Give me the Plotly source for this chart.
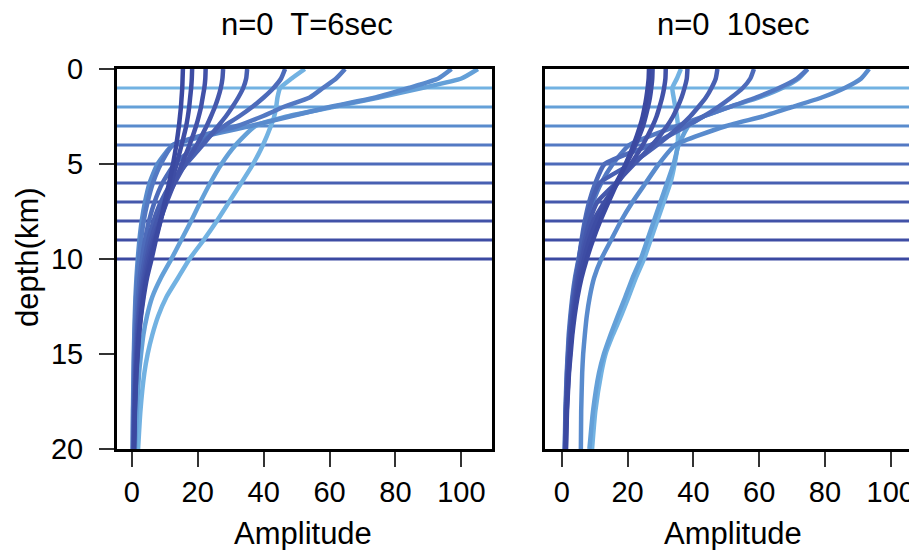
import plotly.graph_objects as go

# depth samples (km) shared by every amplitude profile
DEPTH_KM = [0, 0.5, 1, 1.5, 2, 2.5, 3, 4, 5, 6, 7, 8, 9, 10, 11, 12, 13, 14, 15, 16, 18, 20]

# layer thickness of each model (km), one horizontal line each
LAYER_KM = [1, 2, 3, 4, 5, 6, 7, 8, 9, 10]

# light blue -> dark blue, one per layer thickness
LAYER_COLORS = [
    "#72b2e2", "#64a0d8", "#598bcd", "#5379c3", "#4d6bba",
    "#4860b2", "#4558ac", "#4252a8", "#3e4da4", "#3b49a1",
]

# n=0, T=6sec amplitude profiles (one list per layer thickness)
t6_h1 = [52.5, 48.5, 45, 44.2, 43.8, 43.2, 42.2, 39.8, 36.8, 33.2, 29.5, 25.8, 21.8, 17.5, 14, 10.5, 8, 6.2, 4.8, 3.8, 2.6, 1.9]
t6_h2 = [105, 100, 88, 75, 61, 47, 37.5, 31.5, 27.2, 23.8, 20.8, 18, 15, 12, 8.8, 6.2, 4.6, 3.5, 2.8, 2.2, 1.5, 1.0]
t6_h3 = [97, 93, 84, 74, 60, 48, 36, 12.5, 7.8, 5.4, 4, 3, 2.3, 1.8, 1.4, 1.1, 0.9, 0.75, 0.6, 0.5, 0.35, 0.25]
t6_h4 = [64.7, 62, 58, 54, 46, 39.5, 32, 12.5, 8.8, 6.4, 4.8, 3.6, 2.8, 2.2, 1.7, 1.3, 1.05, 0.85, 0.7, 0.6, 0.4, 0.3]
t6_h5 = [46.5, 45.3, 43, 40, 36.5, 32.5, 28, 20, 13, 9.3, 6.9, 5.2, 4, 3.1, 2.4, 1.9, 1.5, 1.2, 1.0, 0.8, 0.55, 0.4]
t6_h6 = [35, 34.7, 33.8, 32.3, 30.5, 28.5, 26.2, 21.5, 16.5, 12, 8.8, 6.6, 5, 3.9, 3.0, 2.4, 1.9, 1.5, 1.2, 1.0, 0.7, 0.5]
t6_h7 = [27.7, 27.5, 27, 26.2, 25.2, 24, 22.7, 19.7, 16.2, 13, 10, 7.6, 5.8, 4.5, 3.5, 2.7, 2.1, 1.7, 1.4, 1.1, 0.75, 0.55]
t6_h8 = [22.4, 22.3, 22, 21.5, 21, 20.3, 19.5, 17.5, 15.2, 12.9, 10.6, 8.5, 6.5, 5.0, 3.9, 3.0, 2.4, 1.9, 1.5, 1.2, 0.8, 0.6]
t6_h9 = [18.3, 18.2, 18, 17.7, 17.4, 17, 16.5, 15.1, 13.6, 12, 10.3, 8.7, 7, 5.5, 4.3, 3.4, 2.7, 2.1, 1.7, 1.35, 0.9, 0.65]
t6_h10 = [15.5, 15.4, 15.3, 15.1, 14.9, 14.6, 14.3, 13.5, 12.5, 11.3, 10, 8.7, 7.3, 6, 4.6, 3.6, 2.8, 2.2, 1.8, 1.4, 0.95, 0.7]

# n=0, 10sec amplitude profiles
t10_h1 = [36.2, 35, 33.6, 34, 34.5, 35, 35.3, 35.2, 34.3, 33, 31, 29, 27, 25, 22.5, 20.3, 18, 15.5, 13.3, 12, 10.2, 9.2]
t10_h2 = [74.7, 72, 67, 60, 51, 43, 38.5, 35.5, 34, 32, 30, 28, 26, 24, 21.5, 19.3, 17, 14.8, 12.8, 11.3, 9.5, 8.4]
t10_h3 = [93.4, 91, 86, 79, 70, 61, 50, 34.5, 29.5, 25.5, 21.5, 18, 15, 12, 9.8, 8.5, 7.6, 7, 6.5, 6.2, 5.9, 5.8]
t10_h4 = [74.7, 71.5, 66, 59, 51, 43, 35, 20.5, 15.5, 12, 9.5, 7.6, 6.2, 5.1, 4.0, 3.2, 2.6, 2.1, 1.8, 1.5, 1.1, 0.9]
t10_h5 = [58.4, 57.3, 55, 51.5, 47.5, 43, 38, 27, 13, 10.2, 8.3, 7, 6, 5.2, 4.2, 3.4, 2.8, 2.3, 1.9, 1.6, 1.2, 0.95]
t10_h6 = [47.3, 46.8, 45.5, 43.8, 41.5, 39, 36, 29, 21, 11.5, 9, 7.4, 6.2, 5.3, 4.3, 3.5, 2.9, 2.4, 2.0, 1.7, 1.25, 1.0]
t10_h7 = [38.2, 38, 37.3, 36.4, 35.2, 33.8, 32, 27.5, 22, 16.5, 10.8, 8.5, 7, 5.8, 4.7, 3.8, 3.1, 2.6, 2.2, 1.8, 1.35, 1.05]
t10_h8 = [31.6, 31.5, 31.1, 30.5, 29.7, 28.8, 27.6, 24.6, 21, 17, 13, 9.6, 7.6, 6.2, 5.0, 4.1, 3.3, 2.8, 2.3, 1.9, 1.4, 1.1]
t10_h9 = [27.6, 27.5, 27.2, 26.8, 26.2, 25.5, 24.7, 22.4, 19.6, 16.5, 13.4, 10.6, 8.4, 6.8, 5.4, 4.4, 3.6, 3.0, 2.5, 2.1, 1.5, 1.2]
t10_h10 = [26.5, 26.4, 26.1, 25.7, 25.2, 24.6, 23.8, 21.8, 19.4, 16.8, 14.2, 11.7, 9.5, 7.6, 6.0, 4.8, 3.9, 3.2, 2.7, 2.2, 1.6, 1.3]

T6_PROFILES = [t6_h1, t6_h2, t6_h3, t6_h4, t6_h5, t6_h6, t6_h7, t6_h8, t6_h9, t6_h10]
T10_PROFILES = [t10_h1, t10_h2, t10_h3, t10_h4, t10_h5, t10_h6, t10_h7, t10_h8, t10_h9, t10_h10]

PANEL_TITLES = ["n=0\u00a0 T=6sec", "n=0\u00a0 10sec"]
X_TICKS = [0, 20, 40, 60, 80, 100]
Y_TICKS = [0, 5, 10, 15, 20]

FONT = "Liberation Sans, Arial, Helvetica, sans-serif"
W, H = 917, 550
PAGE_PAD = 8  # the page body margin shifts the figure by this much


def px_x(p):
    return (p - PAGE_PAD) / W


def px_y(p):
    return (H - (p - PAGE_PAD)) / H


fig = go.Figure()

# horizontal layer lines (behind the profiles)
for xa, ya in (("x", "y"), ("x2", "y2")):
    for h, c in zip(LAYER_KM, LAYER_COLORS):
        fig.add_shape(
            type="line", xref=f"{xa} domain", yref=ya,
            x0=0, x1=1, y0=h, y1=h,
            line=dict(color=c, width=3), layer="below",
        )

for profiles, xa, ya in ((T6_PROFILES, "x", "y"), (T10_PROFILES, "x2", "y2")):
    for amp, c in zip(profiles, LAYER_COLORS):
        fig.add_trace(
            go.Scatter(
                x=amp, y=DEPTH_KM, mode="lines",
                line=dict(color=c, width=4.5, shape="spline", smoothing=0.5),
                xaxis=xa, yaxis=ya, showlegend=False, hoverinfo="skip",
            )
        )

ydom = [px_y(449), px_y(69)]
axis_common = dict(
    showline=True, linecolor="black", linewidth=3,
    ticks="outside", ticklen=15, tickwidth=2, tickcolor="#333",
    tickfont=dict(size=29, color="black", family=FONT),
    showgrid=False, zeroline=False, automargin=False,
)

fig.update_layout(
    width=W, height=H, autosize=False,
    margin=dict(l=0, r=0, t=0, b=0),
    paper_bgcolor="white", plot_bgcolor="white",
    font=dict(family=FONT, color="black"),
    xaxis=dict(domain=[px_x(117), px_x(492)], range=[-4.5, 109.3],
               tickvals=X_TICKS, mirror=True, ticklabelstandoff=0, anchor="y",
               **axis_common),
    yaxis=dict(domain=ydom, range=[20, 0], tickvals=Y_TICKS, mirror=True,
               ticklabelstandoff=10, anchor="x", **axis_common),
    xaxis2=dict(domain=[px_x(545), 1.0], range=[-5.1, 110.4],
                tickvals=X_TICKS, mirror=True, ticklabelstandoff=0, anchor="y2",
                **axis_common),
    yaxis2=dict(domain=ydom, range=[20, 0], anchor="x2", showline=True,
                linecolor="black", linewidth=3, ticks="", showticklabels=False,
                showgrid=False, zeroline=False, automargin=False),
)

notes = [
    (PANEL_TITLES[0], px_x(307), px_y(25), 0, 31),
    (PANEL_TITLES[1], px_x(733), px_y(25), 0, 31),
    ("Amplitude", px_x(303), px_y(533), 0, 31),
    ("Amplitude", px_x(733), px_y(533), 0, 31),
    ("depth(km)", px_x(27), px_y(257), -90, 31),
]
for text, x, y, ang, size in notes:
    fig.add_annotation(
        text=text, x=x, y=y, xref="paper", yref="paper",
        xanchor="center", yanchor="middle", textangle=ang, showarrow=False,
        font=dict(size=size, family=FONT, color="black"),
    )

fig.write_html("out.html")
